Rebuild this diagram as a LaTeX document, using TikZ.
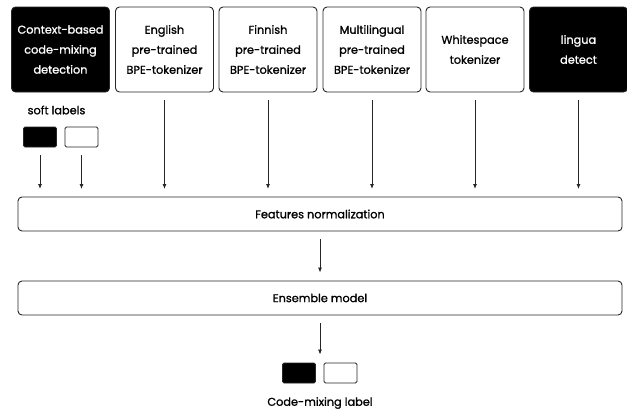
\documentclass[tikz,border=0pt]{standalone}
\usepackage{fontspec}
\setmainfont{Poppins}[FakeBold=1.2]
\usetikzlibrary{arrows.meta}
\begin{document}
\begin{tikzpicture}[x=1pt,y=-1pt,
  topbox/.style={draw=black!85,line width=0.9pt,rounded corners=4pt,minimum width=98pt,minimum height=85pt,inner sep=0pt,align=center,font=\fontsize{11.3}{20}\selectfont},
  blackbox/.style={topbox,fill=black,text=white},
  widebox/.style={draw=black!85,line width=0.9pt,rounded corners=4pt,minimum width=604pt,minimum height=34pt,inner sep=0pt,font=\fontsize{11.3}{14}\selectfont},
  swatch/.style={draw=black!85,line width=0.9pt,rounded corners=1.5pt,minimum width=33pt,minimum height=20pt,inner sep=0pt},
  arr/.style={draw=black!85,line width=0.8pt,-{Latex[length=5pt,width=4pt]}},
  lbl/.style={font=\fontsize{11.3}{14}\selectfont,inner sep=0pt}]
\useasboundingbox (0,0) rectangle (627,413);
\node[blackbox] (ctx) at (60.5,49.5) {Context-based\\code-mixing\\detection};
\node[topbox] (eng) at (164.5,49.5) {English\\pre-trained\\BPE-tokenizer};
\node[topbox] (fin) at (268,49.5) {Finnish\\pre-trained\\BPE-tokenizer};
\node[topbox] (mul) at (372,49.5) {Multilingual\\pre-trained\\BPE-tokenizer};
\node[topbox] (ws) at (475,49.5) {Whitespace\\tokenizer};
\node[blackbox] (lin) at (578.5,49.5) {lingua\\detect};
\node[lbl] (soft) at (56.5,110) {soft labels};
\node[swatch,fill=black] (sb) at (40,137) {};
\node[swatch,fill=white] (sw) at (81.5,137) {};
\node[widebox] (feat) at (320,214) {Features normalization};
\node[widebox] (ens) at (320,298) {Ensemble model};
\node[swatch,fill=black] (ob) at (299,373) {};
\node[swatch,fill=white] (ow) at (340.5,373) {};
\node[lbl] (out) at (320,403) {Code-mixing label};
\coordinate (t1) at (40,189);
\coordinate (t2) at (81.5,189);
\draw[arr] (sb.south) ++(0,8) -- (t1);
\draw[arr] (sw.south) ++(0,8) -- (t2);
\foreach \n in {eng,fin,mul,ws,lin}{
  \draw[arr] ([yshift=-8pt]\n.south) -- ([yshift=-189pt]\n.south |- 0,0);
}
\draw[arr] ([yshift=-8pt]feat.south) -- ([yshift=8pt]ens.north);
\draw[arr] ([yshift=-8pt]ens.south) -- ([yshift=8pt]ens.south |- ob.north);
\end{tikzpicture}
\end{document}
